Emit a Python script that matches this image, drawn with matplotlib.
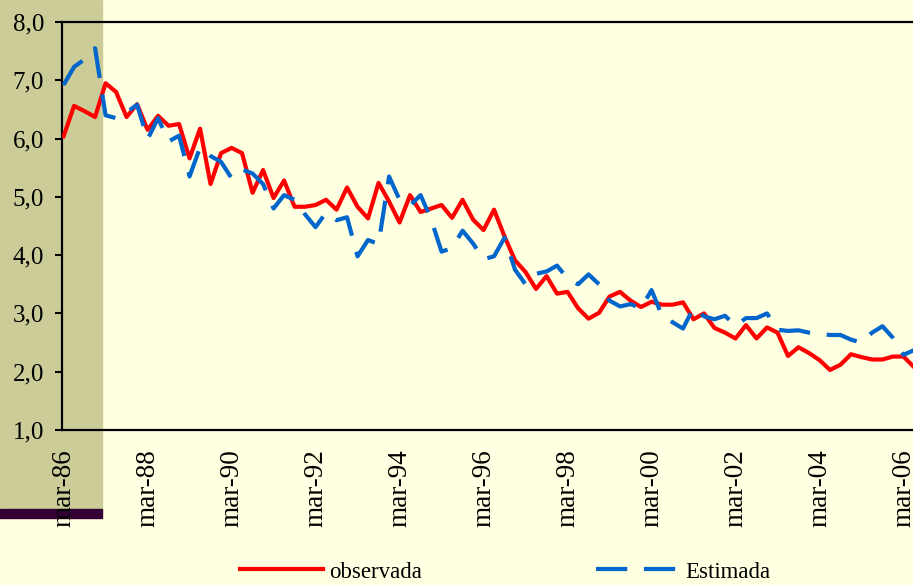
import matplotlib
matplotlib.use("Agg")
import matplotlib.pyplot as plt
from matplotlib.patches import Rectangle

# colores
bg_color = "#FFFFE1"
shade_color = "#CCCC99"
bar_color = "#330033"
red = "#FF0000"
blue = "#0066CC"

# datos trimestrales desde mar-86
observada = [6.04, 6.56, 6.47, 6.37, 6.95, 6.80, 6.37, 6.59, 6.15, 6.39,
             6.22, 6.25, 5.66, 6.17, 5.22, 5.75, 5.84, 5.75, 5.07, 5.46,
             4.98, 5.28, 4.83, 4.83, 4.86, 4.95, 4.78, 5.16, 4.83, 4.63,
             5.24, 4.92, 4.56, 5.03, 4.74, 4.80, 4.86, 4.64, 4.95, 4.61,
             4.43, 4.78, 4.32, 3.91, 3.71, 3.42, 3.64, 3.34, 3.37, 3.09,
             2.91, 3.01, 3.29, 3.37, 3.22, 3.11, 3.20, 3.15, 3.15, 3.19,
             2.90, 3.00, 2.75, 2.67, 2.57, 2.80, 2.57, 2.76, 2.67, 2.27,
             2.42, 2.32, 2.20, 2.03, 2.12, 2.30, 2.25, 2.21, 2.21, 2.26,
             2.26, 2.08]
estimada = [6.92, 7.23, 7.36, 7.55, 6.40, 6.35, 6.45, 6.58, 5.99, 6.35,
            5.95, 6.05, 5.35, 5.85, 5.70, 5.60, 5.32, 5.47, 5.40, 5.22,
            4.80, 5.03, 4.95, 4.70, 4.48, 4.73, 4.60, 4.65, 3.98, 4.26,
            4.19, 5.35, 4.95, 4.85, 5.03, 4.62, 4.06, 4.12, 4.42, 4.20,
            3.93, 3.98, 4.30, 3.75, 3.50, 3.68, 3.72, 3.82, 3.60, 3.50,
            3.67, 3.50, 3.22, 3.12, 3.16, 3.09, 3.40, 2.96, 2.85, 2.74,
            3.10, 2.95, 2.90, 2.96, 2.79, 2.92, 2.92, 3.00, 2.72, 2.70,
            2.71, 2.67, 2.65, 2.63, 2.63, 2.55, 2.50, 2.67, 2.78, 2.58,
            2.29, 2.37]

x_labels = ["mar-86", "mar-88", "mar-90", "mar-92", "mar-94", "mar-96",
            "mar-98", "mar-00", "mar-02", "mar-04", "mar-06"]
y_ticks = [1, 2, 3, 4, 5, 6, 7, 8]

plt.rcParams["font.family"] = ["Liberation Serif", "DejaVu Serif"]

W, H = 913, 585
fig = plt.figure(figsize=(W / 100, H / 100), dpi=100)
fig.set_facecolor(bg_color)

# franja sombreada a la izquierda
fig.patches.append(Rectangle((0, (H - 509) / H), 102 / W, 509 / H,
                             transform=fig.transFigure, color=shade_color,
                             zorder=-2))
fig.patches.append(Rectangle((0, (H - 518) / H), 102 / W, 9 / H,
                             transform=fig.transFigure, color=bar_color,
                             zorder=-2))

ax = fig.add_axes([62 / W, (H - 430) / H, 852 / W, 408 / H])
ax.set_facecolor("none")

t = list(range(len(observada)))
ax.plot(t, observada, color=red, lw=3, label="observada", zorder=3)
ax.plot(t, estimada, color=blue, lw=3, dashes=(7.5, 4), label="Estimada",
        zorder=4)

ax.set_xlim(-0.15, 81)
ax.set_ylim(1, 8)
ax.set_yticks(y_ticks)
ax.set_yticklabels([f"{v:.1f}".replace(".", ",") for v in y_ticks])
ax.set_xticks(range(0, 8 * len(x_labels), 8))
ax.set_xticklabels(x_labels, rotation=90, va="top", ha="center")

ax.tick_params(axis="y", length=5, width=1.5, pad=8, labelsize=18)
ax.tick_params(axis="x", length=0, pad=14, labelsize=19.5)

for s in ["left", "bottom", "top"]:
    ax.spines[s].set_linewidth(1.6)
    ax.spines[s].set_color("black")
ax.spines["right"].set_visible(False)

fig.legend(loc="center left", bbox_to_anchor=(240 / W, 1 - 572 / H),
           ncol=2, frameon=False, fontsize=16.5, handlelength=3.6,
           handletextpad=0.3, columnspacing=7.6, borderpad=0,
           borderaxespad=0)

fig.savefig("out.png", dpi=100, facecolor=bg_color)
